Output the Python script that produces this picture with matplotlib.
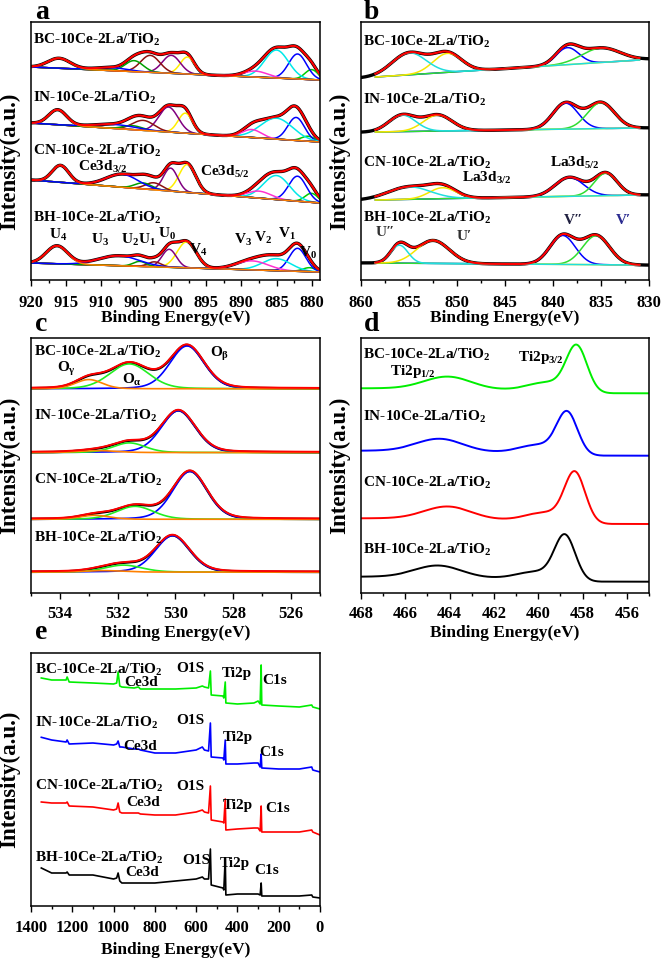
import numpy as np
import matplotlib
matplotlib.use("Agg")
import matplotlib.pyplot as plt
from matplotlib.ticker import MultipleLocator

plt.rcParams["font.family"] = ["Liberation Serif", "DejaVu Serif"]
plt.rcParams["font.weight"] = "bold"
plt.rcParams["mathtext.fontset"] = "custom"
plt.rcParams["mathtext.rm"] = "Liberation Serif:bold"
plt.rcParams["mathtext.it"] = "Liberation Serif:bold"
plt.rcParams["mathtext.bf"] = "Liberation Serif:bold"
plt.rcParams["mathtext.default"] = "rm"

SAMPLES = ["BC-10Ce-2La/TiO$_2$", "IN-10Ce-2La/TiO$_2$",
           "CN-10Ce-2La/TiO$_2$", "BH-10Ce-2La/TiO$_2$"]

# ---- a: Ce3d fit (U4 U3 U2 U1 U0 V4 V3 V2 V1 V0), centre / height / fwhm
CE_COLORS = ["#ff8000", "#0000ff", "#00a000", "#8b1010", "#800080",
             "#ffee00", "#ff30d0", "#00e8e8", "#0000ff", "#00cc00"]
CE_BASE = [(208, 195), (152, 133), (95, 72), (12, 3)]  # (at 920 eV, at 878.8 eV)
CE_CENTER = [[916.0, 908.5, 905.3, 903.0, 900.0, 897.7, 888.0, 885.0, 882.0, 880.0],
             [916.2, 908.0, 905.5, 904.0, 900.4, 898.0, 888.5, 885.0, 882.2, 880.5],
             [915.8, 907.0, 904.0, 902.5, 900.1, 897.7, 887.5, 885.0, 882.0, 880.0],
             [916.3, 907.5, 904.5, 902.4, 900.3, 897.8, 888.5, 885.0, 882.0, 880.3]]
CE_HEIGHT = [[10, 3, 11, 17, 18, 17, 6, 28, 25, 10],
             [15, 4, 4, 10, 25, 20, 8, 21, 23, 5],
             [17, 13, 6, 7, 23, 28, 7, 24, 25, 9],
             [18, 10, 5, 5, 18, 26, 9, 12, 23, 4]]
CE_FWHM = [[3.8, 5.4, 3.0, 3.2, 3.0, 2.4, 4.0, 4.0, 3.0, 2.2],
           [3.0, 6.8, 3.2, 3.6, 3.2, 2.4, 3.2, 5.4, 2.8, 2.2],
           [2.8, 5.4, 2.8, 2.8, 2.4, 2.8, 4.0, 4.4, 3.0, 2.2],
           [3.6, 6.8, 2.2, 2.2, 2.4, 3.2, 5.4, 4.8, 2.8, 2.2]]
CE_PEAK_NAMES = ["U$_4$", "U$_3$", "U$_2$", "U$_1$", "U$_0$",
                 "V$_4$", "V$_3$", "V$_2$", "V$_1$", "V$_0$"]

# ---- b: La3d fit (U'' U' V'' V')
LA_COLORS = ["#20dede", "#f5e600", "#0000ff", "#30dd30"]
LA_BASE = [(198, 215), (143, 147), (75, 80), (12, 10)]  # (at 858.5 eV, at 831 eV)
LA_CENTER = [[855.0, 851.0, 838.5, 835.0],
             [855.7, 852.0, 838.7, 835.0],
             [855.0, 851.5, 838.3, 834.5],
             [856.0, 852.5, 839.0, 835.5]]
LA_HEIGHT = [[22, 19, 17, 14.5],
             [16.5, 16, 26, 26],
             [12.5, 11, 19, 22.5],
             [18, 23, 29, 29]]
LA_FWHM = [[4.2, 3.5, 2.8, 4.7],
           [3.3, 3.5, 3.1, 3.3],
           [5.2, 3.3, 3.5, 2.8],
           [2.1, 4.0, 3.1, 3.3]]

# ---- c: O1s fit (O_gamma O_alpha O_beta)
O_COLORS = ["#ff8000", "#22ee22", "#0000ff"]
O_BASE = [204, 140, 73, 20]
O_CENTER = [[533.0, 531.6, 529.6],
            [532.7, 531.6, 529.9],
            [532.8, 531.4, 529.5],
            [532.5, 531.8, 530.1]]
O_HEIGHT = [[9.3, 25, 43],
            [2, 9.7, 42],
            [4, 13, 48],
            [1.5, 7, 36.5]]
O_FWHM = [[1.1, 1.6, 1.4],
          [1.5, 1.3, 1.4],
          [1.2, 1.5, 1.4],
          [1.5, 1.5, 1.4]]

# ---- d: Ti2p (2p3/2, 2p1/2, shoulder)
TI_COLORS = ["#00ee00", "#0000ff", "#ff0000", "#000000"]
TI_LEVEL = [(199.7, 204.7), (137.3, 142.3), (69.0, 74.7), (11.3, 16.3)]  # (455 eV, 468 eV)
TI_CENTER = [[458.26, 464.06, 459.6],
             [458.69, 464.43, 460.0],
             [458.34, 464.06, 459.7],
             [458.79, 464.50, 460.1]]
TI_HEIGHT = [[45, 12.5, 8],
             [41, 12.8, 8],
             [49, 12.7, 8],
             [44, 12.0, 7]]
TI_FWHM = [1.1, 2.5, 2.0]

# ---- e: survey
SURVEY_EV = [1350, 1300, 1230, 1225, 1215, 1100, 1000, 985, 978, 970, 960, 900, 880,
             870, 800, 700, 600, 570, 560, 540, 531, 527, 470, 466, 459, 456, 400,
             320, 300, 290, 285, 282, 200, 100, 40, 35, 0]
SURVEY_BC = [228, 226, 226, 229, 224, 223, 222, 223, 234, 220, 219, 218, 219, 217, 217,
             217, 218, 220, 219, 218, 235, 211, 210, 208, 224, 203, 202, 203, 205, 202,
             241, 201, 200, 199, 201, 199, 197]
SURVEY_IN = [168.7, 166, 164, 166, 162, 163, 161, 162, 165, 159, 159, 157, 157, 156, 153,
             153, 156, 159, 156, 155, 183, 149, 148, 146, 166, 142, 142, 143, 143, 139,
             152, 138, 137, 137, 139, 136, 134]
SURVEY_CN = [104, 103, 103, 104, 100, 99, 96, 97, 103, 94, 93, 93, 93, 92, 91, 91, 94, 96,
             94, 93, 120, 86, 84, 83, 107, 76, 77, 78, 78, 75, 100, 74, 74, 74, 76, 74, 71]
SURVEY_BH = [38, 33, 33, 34, 31, 31, 27, 28, 33, 25, 23, 23, 23, 23, 23, 25, 27, 29, 27,
             27, 57, 21, 18, 16, 48, 11, 12, 12, 12, 11, 23, 10, 10, 10, 11, 9, 8]
SURVEY_COLORS = ["#00ee00", "#0000ff", "#ff0000", "#000000"]


def peak(x, c, h, w, eta=0.0):
    u = ((x - c) / w) ** 2
    return h * ((1 - eta) * np.exp(-4 * np.log(2) * u) + eta / (1 + 4 * u))


def style(ax, xlim, ylim, major, minor, lab_y, pad, ylab_y=0.5):
    ax.set_xlim(*xlim)
    ax.set_ylim(*ylim)
    ax.set_yticks([])
    ax.xaxis.set_major_locator(MultipleLocator(major))
    ax.xaxis.set_minor_locator(MultipleLocator(minor))
    ax.tick_params(axis="x", which="major", direction="out", length=4, width=1.0,
                   pad=pad, labelsize=12)
    ax.tick_params(axis="x", which="minor", direction="out", length=2.5, width=1.0)
    for s in ax.spines.values():
        s.set_linewidth(1.1)
    ax.set_xlabel("Binding Energy(eV)", fontsize=12.5, fontweight="bold")
    ax.xaxis.label.set_va("center")
    ax.xaxis.set_label_coords(0.5, lab_y)
    ax.set_ylabel("Intensity(a.u.)", fontsize=16.5, fontweight="bold")
    ax.yaxis.label.set_va("center")
    ax.yaxis.set_label_coords(-0.075, ylab_y)


W, H = 661, 961
fig = plt.figure(figsize=(W / 100, H / 100), dpi=100)


def box(l, t, r, b):
    return fig.add_axes([l / W, 1 - b / H, (r - l) / W, (b - t) / H])


ax_a = box(31, 22, 320, 280)
ax_b = box(361, 22, 649, 280)
ax_c = box(31, 338, 320, 593)
ax_d = box(361, 338, 649, 593)
ax_e = box(31, 653, 320, 906)

# ---------------- a
x = np.linspace(920, 878.8, 900)
for i in range(4):
    left, right = CE_BASE[i]
    base = right + (left - right) * (x - 878.8) / (920 - 878.8)
    comps = [peak(x, c, h, w) for c, h, w in zip(CE_CENTER[i], CE_HEIGHT[i], CE_FWHM[i])]
    env = base + np.sum(comps, axis=0)
    ax_a.plot(x, env, color="black", lw=2.4)
    for k in reversed(range(len(comps))):
        ax_a.plot(x, base + comps[k], color=CE_COLORS[k], lw=1.1)
    ax_a.plot(x, env, color="#ff0000", lw=1.5)
for i, yy in enumerate([235, 177, 124, 57]):
    ax_a.text(919.7, yy, SAMPLES[i], fontsize=11, va="center", ha="left")
ax_a.text(913.3, 108, "Ce3d$_{3/2}$", fontsize=11, va="center", ha="left")
ax_a.text(895.9, 103, "Ce3d$_{5/2}$", fontsize=11, va="center", ha="left")
for name, px, py in zip(CE_PEAK_NAMES,
                        [916.1, 910.2, 905.9, 903.5, 900.6, 896.2, 889.8, 886.9, 883.5, 880.5],
                        [40, 35, 35, 35, 41, 25, 35, 37, 41, 22]):
    ax_a.text(px, py, name, fontsize=11, va="center", ha="center")
style(ax_a, (920, 878.8), (-5, 253), 5, 2.5, -0.147, 7, 0.46)

# ---------------- b
xf = np.linspace(858.5, 831, 800)
xr = np.linspace(860, 830, 800)
for i in range(4):
    left, right = LA_BASE[i]
    basef = right + (left - right) * (xf - 831) / (858.5 - 831)
    baser = right + (left - right) * (xr - 831) / (858.5 - 831)
    pars = list(zip(LA_CENTER[i], LA_HEIGHT[i], LA_FWHM[i]))
    envr = baser + np.sum([peak(xr, *p) for p in pars], axis=0)
    ax_b.plot(xr, envr, color="black", lw=2.4)
    comps = [peak(xf, *p) for p in pars]
    for k in [2, 3, 1, 0]:
        ax_b.plot(xf, basef + comps[k], color=LA_COLORS[k], lw=1.1)
    ax_b.plot(xf, basef + np.sum(comps, axis=0), color="#ff0000", lw=1.5)
for i, yy in enumerate([233, 175, 112, 57]):
    ax_b.text(859.8, yy, SAMPLES[i], fontsize=11, va="center", ha="left")
ax_b.text(849.5, 97, "La3d$_{3/2}$", fontsize=11, va="center", ha="left")
ax_b.text(840.3, 112, "La3d$_{5/2}$", fontsize=11, va="center", ha="left")
ax_b.text(857.5, 42, "U\u2033", fontsize=11, va="center", ha="center", color="#303030")
ax_b.text(849.2, 38, "U\u2032", fontsize=11, va="center", ha="center", color="#303030")
ax_b.text(837.9, 55, "V\u2033", fontsize=11, va="center", ha="center", color="#202040")
ax_b.text(832.7, 55, "V\u2032", fontsize=11, va="center", ha="center", color="#2a2a90")
style(ax_b, (860, 830), (-5, 253), 5, 2.5, -0.147, 7, 0.46)

# ---------------- c
x = np.linspace(535, 525, 800)
for i in range(4):
    base = np.full_like(x, O_BASE[i])
    comps = [peak(x, c, h, w, 0.2) for c, h, w in zip(O_CENTER[i], O_HEIGHT[i], O_FWHM[i])]
    env = base + np.sum(comps, axis=0)
    ax_c.plot(x, env, color="black", lw=1.8)
    for k in [2, 1, 0]:
        ax_c.plot(x, base + comps[k], color=O_COLORS[k], lw=1.2)
    ax_c.plot(x, env + 0.6, color="#ff0000", lw=1.4)
for i, yy in enumerate([241, 177, 112, 54]):
    ax_c.text(534.9, yy, SAMPLES[i], fontsize=11, va="center", ha="left")
ax_c.text(534.1, 224, r"O$_\gamma$", fontsize=11, va="center", ha="left")
ax_c.text(531.85, 213, r"O$_\alpha$", fontsize=11, va="center", ha="left")
ax_c.text(528.8, 239, r"O$_\beta$", fontsize=11, va="center", ha="left")
style(ax_c, (535, 525), (-1, 255), 2, 1, -0.157, 5)

# ---------------- d
x = np.linspace(455, 468, 900)
for i in range(4):
    right, left = TI_LEVEL[i]
    p = np.sum([peak(x, c, h, w) for c, h, w in zip(TI_CENTER[i], TI_HEIGHT[i], TI_FWHM)], axis=0)
    bg = right + (left - right) * np.cumsum(p) / p.sum()
    ax_d.plot(x, bg + p, color=TI_COLORS[i], lw=1.4)
for i, yy in enumerate([238, 176, 110, 43]):
    ax_d.text(467.9, yy, SAMPLES[i], fontsize=11, va="center", ha="left")
ax_d.text(466.7, 221, "Ti2p$_{1/2}$", fontsize=11, va="center", ha="left")
ax_d.text(460.9, 235, "Ti2p$_{3/2}$", fontsize=11, va="center", ha="left")
style(ax_d, (468, 455), (0, 255), 2, 1, -0.157, 5)

# ---------------- e
for vals, col in zip([SURVEY_BC, SURVEY_IN, SURVEY_CN, SURVEY_BH], SURVEY_COLORS):
    ax_e.plot(SURVEY_EV, vals, color=col, lw=1.2)
for i, yy in enumerate([236, 183, 120, 48]):
    ax_e.text(1380, yy, SAMPLES[i], fontsize=11, va="center", ha="left")
for lab, xs, ys in [("Ce3d", [868, 872, 857, 864], [223, 159, 104, 33]),
                    ("O1S", [630, 630, 630, 597], [238, 186, 119, 46]),
                    ("Ti2p", [404, 397, 397, 412], [233, 169, 101, 43]),
                    ("C1s", [218, 234, 203, 258], [226, 153, 98, 36])]:
    for xx, yy in zip(xs, ys):
        ax_e.text(xx, yy, lab, fontsize=11, va="center", ha="center")
style(ax_e, (1400, 0), (0, 253), 200, 100, -0.174, 6)

for letter, px, py in [("a", 35, 19), ("b", 364, 19), ("c", 35, 331), ("d", 364, 331), ("e", 35, 639)]:
    fig.text(px / W, 1 - py / H, letter, fontsize=20, fontweight="bold", va="baseline", ha="left")

fig.savefig("out.png", dpi=100)
